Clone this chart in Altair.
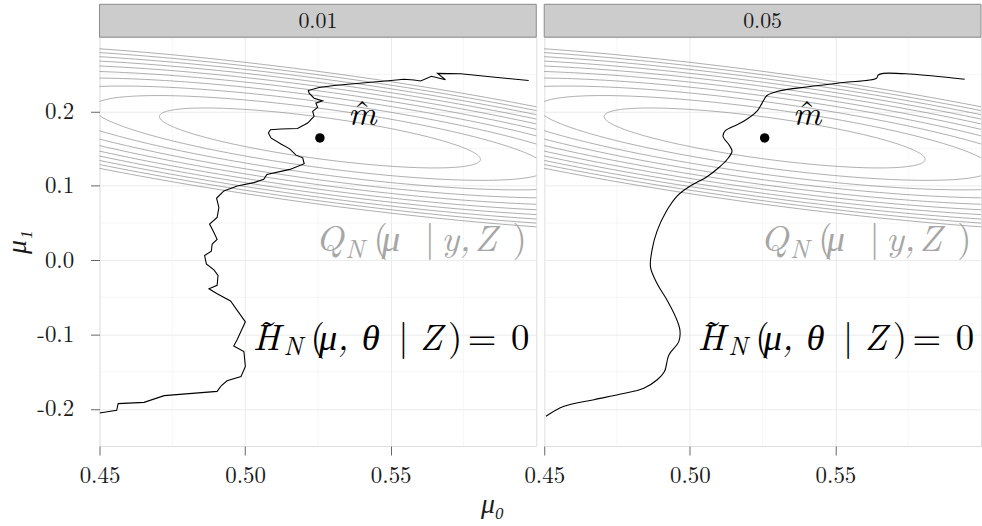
import numpy as np
import pandas as pd
import altair as alt

FONT = "Latin Modern Roman"

# ---- data -------------------------------------------------------------
alphas = ["0.01", "0.05"]

x_domain = [0.45, 0.60]
y_domain = [-0.25, 0.30]
x_ticks = [0.45, 0.50, 0.55]
y_ticks = [-0.2, -0.1, 0.0, 0.1, 0.2]
x_minor = [0.475, 0.525, 0.575]
y_minor = [-0.15, -0.05, 0.05, 0.15, 0.25]

m_hat = [0.5257, 0.1644]
contour_levels = [1, 2, 3, 4, 5, 6, 7, 8, 9, 10]
# half-axes of the unit-level ellipse of Q_N (data units)
ell_major = [0.0551, -0.0293]
ell_minor = [-0.0010, -0.0277]

curve_01_mu0 = [0.4500, 0.4559, 0.4564, 0.4653, 0.4722, 0.4904, 0.4918, 0.4938,
                0.4986, 0.5001, 0.4996, 0.4961, 0.4973, 0.5001, 0.4950, 0.4904,
                0.4876, 0.4904, 0.4907, 0.4893, 0.4867, 0.4861, 0.4884, 0.4887,
                0.4904, 0.4890, 0.4878, 0.4904, 0.4910, 0.4902, 0.4927, 0.4973,
                0.5030, 0.5064, 0.5075, 0.5154, 0.5203, 0.5198, 0.5175, 0.5152,
                0.5123, 0.5089, 0.5080, 0.5087, 0.5123, 0.5180, 0.5215, 0.5237,
                0.5232, 0.5249, 0.5243, 0.5266, 0.5237, 0.5220, 0.5217, 0.5254,
                0.5306, 0.5363, 0.5432, 0.5483, 0.5546, 0.5580, 0.5603, 0.5640,
                0.5688, 0.5661, 0.5740, 0.5974]
curve_01_mu1 = [-0.2055, -0.2019, -0.1929, -0.1912, -0.1822, -0.1765, -0.1689, -0.1622,
                -0.1564, -0.1430, -0.1230, -0.1154, -0.1066, -0.0829, -0.0548, -0.0451,
                -0.0384, -0.0338, -0.0205, -0.0130, -0.0049, 0.0063, 0.0120, 0.0218,
                0.0281, 0.0397, 0.0485, 0.0575, 0.0709, 0.0833, 0.0932, 0.0999,
                0.1043, 0.1087, 0.1154, 0.1221, 0.1297, 0.1377, 0.1413, 0.1501,
                0.1564, 0.1644, 0.1711, 0.1755, 0.1765, 0.1771, 0.1845, 0.1934,
                0.2001, 0.2055, 0.2112, 0.2143, 0.2179, 0.2246, 0.2282, 0.2322,
                0.2349, 0.2370, 0.2393, 0.2410, 0.2433, 0.2424, 0.2410, 0.2473,
                0.2427, 0.2513, 0.2507, 0.2416]

curve_05_mu0 = [0.4506, 0.4568, 0.4671, 0.4763, 0.4842, 0.4888, 0.4913, 0.4928,
                0.4962, 0.4966, 0.4951, 0.4922, 0.4888, 0.4865, 0.4871, 0.4888,
                0.4917, 0.4957, 0.5002, 0.5059, 0.5099, 0.5128, 0.5145, 0.5134,
                0.5114, 0.5122, 0.5162, 0.5185, 0.5230, 0.5248, 0.5265, 0.5299,
                0.5413, 0.5527, 0.5641, 0.5647, 0.5664, 0.5756, 0.5944]
curve_05_mu1 = [-0.2099, -0.1965, -0.1876, -0.1801, -0.1721, -0.1608, -0.1497, -0.1274,
                -0.1096, -0.0940, -0.0762, -0.0539, -0.0317, -0.0094, 0.0151, 0.0397,
                0.0642, 0.0865, 0.0999, 0.1123, 0.1243, 0.1354, 0.1467, 0.1555,
                0.1667, 0.1742, 0.1822, 0.1868, 0.2001, 0.2112, 0.2215, 0.2269,
                0.2336, 0.2389, 0.2447, 0.2491, 0.2513, 0.2504, 0.2433]

# annotation pieces: (text, mu0, mu1 baseline, kind)
q_pieces = [("Q", 0.5242, 0.0126, "it"), ("N", 0.5344, 0.0036, "sub"),
            ("(", 0.5441, 0.0126, "up"), ("μ", 0.5469, 0.0126, "it"),
            ("|", 0.5617, 0.0126, "up"), ("y,", 0.5674, 0.0126, "it"),
            ("Z", 0.5788, 0.0126, "it"), (")", 0.5918, 0.0126, "up")]
h_pieces = [("H", 0.5026, -0.1208, "it"), ("\u02dc", 0.5080, -0.1160, "acc"),
            ("N", 0.5132, -0.1279, "sub"), ("(", 0.5225, -0.1208, "up"),
            ("μ,", 0.5253, -0.1208, "it"), ("θ", 0.5401, -0.1208, "it"),
            ("|", 0.5526, -0.1208, "up"), ("Z", 0.5600, -0.1208, "it"),
            (")", 0.5697, -0.1208, "up"), ("=", 0.5765, -0.1208, "up"),
            ("0", 0.5913, -0.1208, "up")]
m_pieces = [("m", 0.5402, 0.1822, "mc"), ("\u02c6", 0.5402, 0.1822, "mh")]

# ---- frames -----------------------------------------------------------
t = np.linspace(0, 2 * np.pi, 361)
rows = []
for lv in contour_levels:
    r = np.sqrt(lv)
    for i, tt in enumerate(t):
        rows.append({
            "level": lv, "i": i,
            "mu0": m_hat[0] + r * (ell_major[0] * np.cos(tt) + ell_minor[0] * np.sin(tt)),
            "mu1": m_hat[1] + r * (ell_major[1] * np.cos(tt) + ell_minor[1] * np.sin(tt)),
        })
contours = pd.DataFrame(rows)

W, H = 439, 411
STRIP = 33
BIG, SUB, MSZ = 37, 26, 35

xs = alt.Scale(domain=x_domain, nice=False, zero=False)
ys = alt.Scale(domain=y_domain, nice=False, zero=False)


def xaxis():
    return alt.Axis(values=x_ticks, format=".2f", title=None, grid=True,
                    gridColor="#EBEBEB", gridWidth=1, tickColor="#666666",
                    tickSize=9, labelFontSize=23, labelPadding=10, domain=False,
                    labelColor="#1a1a1a", labelFont=FONT, labelFlush=False,
                    labelOverlap=False)


def yaxis(first):
    if first:
        return alt.Axis(values=y_ticks,
                        labelExpr="replace(format(datum.value, '.1f'), '\u2212', '-')",
                        title="μ₁", grid=True, gridColor="#EBEBEB", gridWidth=1,
                        tickColor="#666666", tickSize=9, labelFontSize=23,
                        labelPadding=17, domain=False, labelColor="#1a1a1a",
                        labelFont=FONT, titleFont=FONT, titleFontSize=28,
                        titleFontStyle="italic", titleFontWeight="normal",
                        titlePadding=5, titleColor="#1a1a1a", labelFlush=False,
                        labelOverlap=False)
    return alt.Axis(values=y_ticks, labels=False, ticks=False, domain=False,
                    title=None, grid=True, gridColor="#EBEBEB", gridWidth=1)


def X(f, first):
    return alt.X(f, scale=xs, axis=xaxis())


def Y(f, first):
    return alt.Y(f, scale=ys, axis=yaxis(first))


STYLES = {"it": ("italic", BIG, "left"), "up": ("normal", BIG, "left"),
          "sub": ("italic", SUB, "left"), "acc": ("normal", BIG, "center"),
          "mc": ("italic", MSZ, "center"), "mh": ("normal", MSZ, "center")}


def pieces_layers(pieces, color, first):
    layers = []
    for kind, (style, size, align) in STYLES.items():
        sel = [p for p in pieces if p[3] == kind]
        if not sel:
            continue
        df = pd.DataFrame({"t": [p[0] for p in sel], "mu0": [p[1] for p in sel],
                           "mu1": [p[2] for p in sel]})
        layers.append(
            alt.Chart(df).mark_text(align=align, baseline="alphabetic", font=FONT,
                                    fontStyle=style, fontSize=size, color=color)
            .encode(x=X("mu0:Q", first), y=Y("mu1:Q", first), text="t:N")
        )
    return layers


def panel(alpha, mu0, mu1, first):
    curve = pd.DataFrame({"mu0": mu0, "mu1": mu1, "i": range(len(mu0))})
    minor_x = alt.Chart(pd.DataFrame({"v": x_minor})).mark_rule(
        color="#F0F0F0", strokeWidth=0.6).encode(x=X("v:Q", first))
    minor_y = alt.Chart(pd.DataFrame({"v": y_minor})).mark_rule(
        color="#F0F0F0", strokeWidth=0.6).encode(y=Y("v:Q", first))
    cont = alt.Chart(contours).mark_line(color="#8a8a8a", strokeWidth=0.7, clip=True).encode(
        x=X("mu0:Q", first), y=Y("mu1:Q", first), detail="level:N", order="i:Q")
    line = alt.Chart(curve).mark_line(
        color="black", strokeWidth=1.1, clip=True,
        interpolate="linear" if first else "catmull-rom").encode(
        x=X("mu0:Q", first), y=Y("mu1:Q", first), order="i:Q")
    pt = alt.Chart(pd.DataFrame({"mu0": [m_hat[0]], "mu1": [m_hat[1]]})).mark_circle(
        color="black", size=90, opacity=1).encode(x=X("mu0:Q", first), y=Y("mu1:Q", first))
    strip = alt.Chart(pd.DataFrame({"a": [alpha]})).mark_rect(
        fill="#CCCCCC", stroke="#8a8a8a", strokeWidth=1).encode(
        x=alt.value(0), x2=alt.value(W), y=alt.value(-STRIP), y2=alt.value(0))
    strip_txt = alt.Chart(pd.DataFrame({"a": [alpha]})).mark_text(
        font=FONT, fontSize=22, color="#1a1a1a", baseline="middle", align="center").encode(
        x=alt.value(W / 2), y=alt.value(-STRIP / 2), text="a:N")
    layers = [minor_x, minor_y, cont, line, pt]
    layers += pieces_layers(m_pieces, "black", first)
    layers += pieces_layers(q_pieces, "#a6a6a6", first)
    layers += pieces_layers(h_pieces, "black", first)
    layers += [strip, strip_txt]
    return alt.layer(*layers).properties(width=W, height=H)


p1 = panel(alphas[0], curve_01_mu0, curve_01_mu1, True)
p2 = panel(alphas[1], curve_05_mu0, curve_05_mu1, False)

chart = alt.hconcat(p1, p2, spacing=8, bounds="flush").properties(
    title=alt.TitleParams("μ₀", orient="bottom", anchor="middle", font=FONT,
                          fontSize=28, fontStyle="italic", fontWeight="normal",
                          color="#1a1a1a", offset=3),
    padding={"left": 3, "top": 2, "right": 0, "bottom": 2},
    background="white",
).configure_view(stroke="#8a8a8a", strokeWidth=1).configure(font=FONT)

chart.save("out.html", embed_options={"renderer": "svg", "actions": False})
